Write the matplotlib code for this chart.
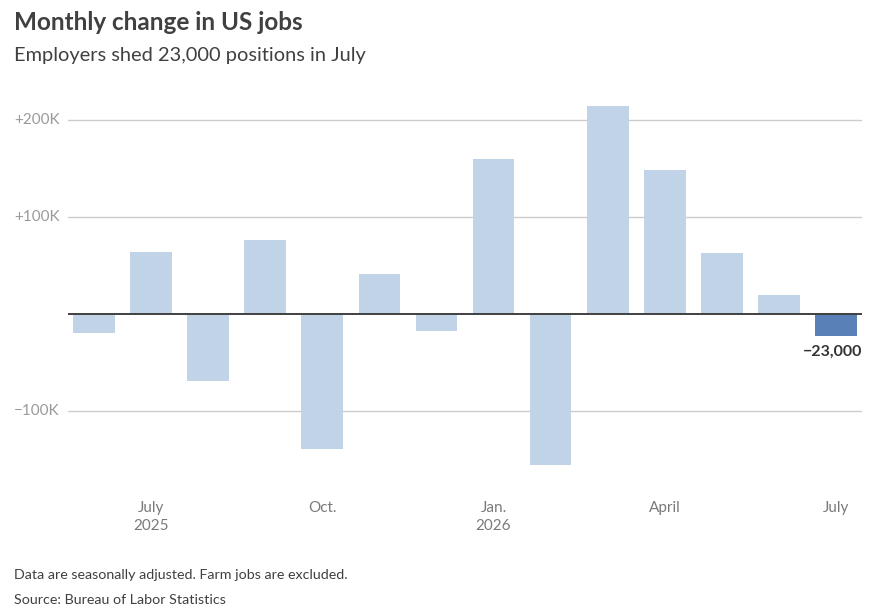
import matplotlib.pyplot as plt
from matplotlib.transforms import blended_transform_factory

months = ["Jun", "Jul", "Aug", "Sep", "Oct", "Nov", "Dec",
          "Jan", "Feb", "Mar", "Apr", "May", "Jun", "Jul"]
changes = [-20, 64, -69, 76, -139, 41, -17, 160, -156, 214, 148, 63, 20, -23]  # thousands
tick_pos = [1, 4, 7, 10, 13]
tick_labels = ["July\n2025", "Oct.", "Jan.\n2026", "April", "July"]
grid_vals = [200, 100, -100]
grid_labels = ["+200K", "+100K", "\u2212100K"]

W, H = 877, 615
plt.rcParams['font.family'] = ['Lato', 'DejaVu Sans']
fig = plt.figure(figsize=(W / 100, H / 100), dpi=100)

# axes: x 68..862 px, y 95..480 px
ax = fig.add_axes([68 / W, 1 - 480 / H, (862 - 68) / W, (480 - 95) / H])
ax.set_xlim(-0.455, 13.455)
ax.set_ylim(-171, 225.8)

colors = ["#c1d3e7"] * (len(changes) - 1) + ["#5a80b8"]
ax.bar(range(len(changes)), changes, width=0.73, color=colors, zorder=2)

for v in grid_vals:
    ax.axhline(v, color="#cccccc", lw=1, zorder=1)
ax.axhline(0, color="#404040", lw=1.4, zorder=3)

for s in ax.spines.values():
    s.set_visible(False)
ax.set_yticks([])
ax.set_xticks(tick_pos)
ax.set_xticklabels(tick_labels, fontsize=11, color="#7a7a7a", linespacing=1.4)
ax.tick_params(axis="x", length=0, pad=15)

# y labels sit at the left edge of the figure
trans = blended_transform_factory(fig.transFigure, ax.transData)
for v, lab in zip(grid_vals, grid_labels):
    ax.text(14 / W, v, lab, transform=trans, fontsize=11,
            color="#9a9a9a", va="center", ha="left")

ax.text(13.455, changes[-1] - 9, "\u221223,000", fontsize=11.5, fontweight="bold",
        color="#333333", ha="right", va="top")

fig.text(14 / W, 1 - 23 / H, "Monthly change in US jobs", fontsize=17.5,
         fontweight="bold", color="#404040", va="center")
fig.text(14 / W, 1 - 56 / H, "Employers shed 23,000 positions in July", fontsize=14.4,
         color="#404040", va="center")
fig.text(14 / W, 1 - 575 / H, "Data are seasonally adjusted. Farm jobs are excluded.",
         fontsize=10.3, color="#404040", va="center")
fig.text(14 / W, 1 - 600 / H, "Source: Bureau of Labor Statistics",
         fontsize=10.3, color="#404040", va="center")

fig.savefig("out.png", dpi=100, facecolor="white")
